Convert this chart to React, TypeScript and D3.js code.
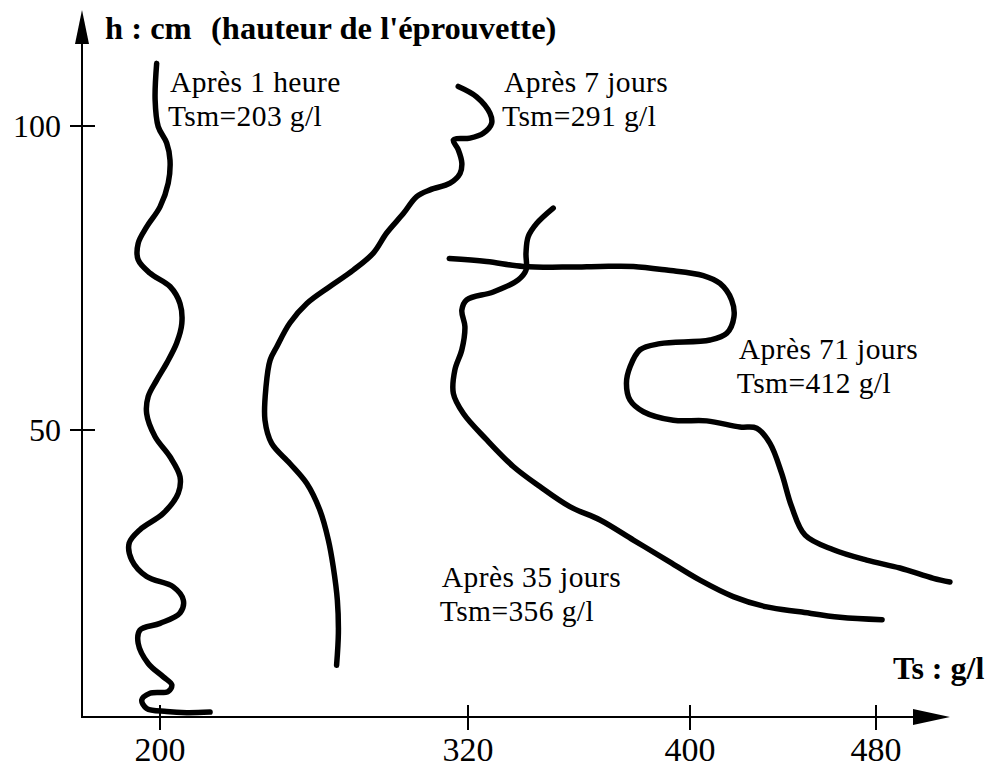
import React from "react";
import * as d3 from "d3";

// ---- data (Ts in g/l, h in cm) ----
const xTickValues = [200, 320, 400, 480];
const yTickValues = [50, 100];

const curve1h: [number, number][] = [
  [198.7, 110.3], [198.1, 104.3], [199.3, 99.9], [202.6, 97.2], [203.9, 94.4], [203.2, 90.6],
  [200.0, 86.7], [194.8, 83.4], [191.5, 80.7], [191.5, 78.0], [196.1, 75.8], [203.9, 73.6],
  [207.8, 70.8], [208.5, 67.5], [206.5, 64.3], [202.6, 61.0], [198.7, 58.2], [195.4, 55.5],
  [194.8, 52.7], [198.1, 48.9], [203.9, 45.6], [207.8, 42.3], [207.1, 39.6], [201.3, 36.3],
  [192.2, 33.6], [188.0, 31.4], [189.0, 28.6], [194.8, 25.9], [205.2, 24.2], [209.1, 22.0],
  [207.8, 19.9], [200.0, 18.2], [192.2, 17.1], [191.5, 14.9], [195.4, 11.6], [201.3, 9.4],
  [204.6, 8.1], [203.2, 7.0], [196.1, 6.7], [192.9, 5.6], [194.8, 4.2], [202.6, 3.7],
  [210.4, 3.5], [219.5, 3.6],
];

const curve7d: [number, number][] = [
  [316.2, 106.5], [323.1, 104.8], [327.9, 102.1], [328.5, 100.4], [325.5, 98.8], [320.7, 98.0],
  [314.3, 97.7], [316.2, 96.1], [317.6, 93.9], [316.9, 92.2], [313.0, 90.6], [305.2, 89.5],
  [300.0, 88.4], [294.8, 85.6], [288.3, 82.4], [283.1, 79.1], [275.3, 76.3], [266.2, 73.6],
  [257.2, 70.8], [250.6, 67.6], [245.5, 63.7], [242.9, 61.5], [241.3, 57.1], [240.9, 51.6],
  [243.5, 47.8], [250.6, 44.5], [257.2, 41.2], [262.3, 36.8], [265.6, 31.9], [267.5, 27.5],
  [269.1, 22.0], [269.5, 16.6], [268.8, 11.3],
];

const curve35d: [number, number][] = [
  [350.7, 86.5], [344.8, 84.0], [341.7, 81.8], [340.9, 79.1], [340.9, 76.3], [338.1, 74.7],
  [329.1, 72.7], [319.5, 71.4], [317.6, 69.7], [318.8, 67.0], [317.6, 63.2], [314.9, 59.9],
  [314.3, 56.0], [318.2, 52.7], [326.7, 48.4], [336.3, 44.0], [345.9, 40.7], [356.7, 37.4],
  [367.6, 35.2], [379.6, 31.9], [391.6, 28.6], [404.3, 25.3], [418.6, 22.6], [433.0, 20.9],
  [447.3, 20.1], [464.5, 19.2], [482.6, 18.8],
];

const curve71d: [number, number][] = [
  [312.7, 78.2], [326.7, 77.7], [339.9, 76.9], [356.8, 76.8], [367.6, 76.9], [379.6, 76.9],
  [391.6, 76.3], [405.7, 75.4], [412.9, 74.1], [417.9, 71.4], [418.9, 68.6], [415.8, 65.9],
  [408.6, 64.8], [389.2, 64.2], [382.0, 63.2], [378.4, 60.4], [377.1, 57.7], [378.4, 54.9],
  [383.2, 53.0], [394.0, 51.6], [407.2, 51.5], [421.5, 50.5], [428.7, 50.3], [434.4, 47.8],
  [439.4, 42.9], [443.7, 37.4], [449.5, 32.7], [461.7, 30.3], [476.0, 28.6], [490.3, 27.3],
  [504.7, 25.6], [511.8, 25.0],
];

const seriesCurves = [curve1h, curve7d, curve35d, curve71d];

const curveLabels = [
  { l1: "Après 1 heure", l2: "Tsm=203 g/l", ts: 203.9, h: 105.6 },
  { l1: "Après 7 jours", l2: "Tsm=291 g/l", ts: 333.0, h: 105.6 },
  { l1: "Après 71 jours", l2: "Tsm=412 g/l", ts: 421.0, h: 61.7 },
  { l1: "Après 35 jours", l2: "Tsm=356 g/l", ts: 309.8, h: 24.1 },
];

const yAxisTitleA = "h : cm";
const yAxisTitleB = "(hauteur de l'éprouvette)";
const xAxisTitle = "Ts : g/l";

export default function App() {
  const W = 992;
  const H = 774;
  const originX = 82;
  const originY = 717;

  // hand-drawn original: uneven tick spacing → polylinear scale
  const x = d3.scaleLinear().domain(xTickValues).range([160, 468, 690, 876]);
  const y = d3.scaleLinear().domain(yTickValues).range([430, 126]);

  const line = d3
    .line<[number, number]>()
    .x((d) => x(d[0]))
    .y((d) => y(d[1]))
    .curve(d3.curveCatmullRom.alpha(0.5));

  const font = "'Liberation Serif', 'Times New Roman', serif";

  return (
    <svg
      width={W}
      height={H}
      viewBox={`0 0 ${W} ${H}`}
      style={{ position: "absolute", left: 0, top: 0, background: "#fff" }}
    >
      <rect x={0} y={0} width={W} height={H} fill="#fff" />
      {/* axes */}
      <line x1={originX} y1={originY + 1} x2={originX} y2={38} stroke="#000" strokeWidth={2} />
      <path d={`M${originX},10 L${originX - 7},44 L${originX + 7},44 Z`} fill="#000" />
      <line x1={originX - 1} y1={originY} x2={918} y2={originY} stroke="#000" strokeWidth={2} />
      <path d={`M950,${originY} L913,${originY - 8} L913,${originY + 8} Z`} fill="#000" />

      {/* y ticks */}
      {yTickValues.map((v) => (
        <g key={"y" + v}>
          <line x1={originX - 12} x2={originX + 13} y1={y(v)} y2={y(v)} stroke="#000" strokeWidth={2} />
          <text x={61} y={y(v) + 11} textAnchor="end" fontFamily={font} fontSize={32} fill="#000">
            {v}
          </text>
        </g>
      ))}

      {/* x ticks */}
      {xTickValues.map((v) => (
        <g key={"x" + v}>
          <line x1={x(v)} x2={x(v)} y1={originY - 12} y2={originY + 13} stroke="#000" strokeWidth={2} />
          <text x={x(v)} y={761} textAnchor="middle" fontFamily={font} fontSize={34} fill="#000">
            {v}
          </text>
        </g>
      ))}

      {/* axis titles */}
      <text y={39} fontFamily={font} fontWeight="bold" fontSize={32.5} fill="#000">
        <tspan x={105}>{yAxisTitleA}</tspan>
        <tspan x={211}>{yAxisTitleB}</tspan>
      </text>
      <text x={893} y={679} fontFamily={font} fontWeight="bold" fontSize={32} fill="#000">
        {xAxisTitle}
      </text>

      {/* curves */}
      {seriesCurves.map((c, i) => (
        <path
          key={"c" + i}
          d={line(c) || ""}
          fill="none"
          stroke="#000"
          strokeWidth={5.5}
          strokeLinecap="round"
          strokeLinejoin="round"
        />
      ))}

      {/* curve labels */}
      {curveLabels.map((lb, i) => (
        <g key={"l" + i} fontFamily={font} fontSize={29.5} fill="#000" letterSpacing={0.4}>
          <text x={x(lb.ts)} y={y(lb.h)}>
            {lb.l1}
          </text>
          <text x={x(lb.ts) - 2} y={y(lb.h) + 34}>
            {lb.l2}
          </text>
        </g>
      ))}
    </svg>
  );
}
